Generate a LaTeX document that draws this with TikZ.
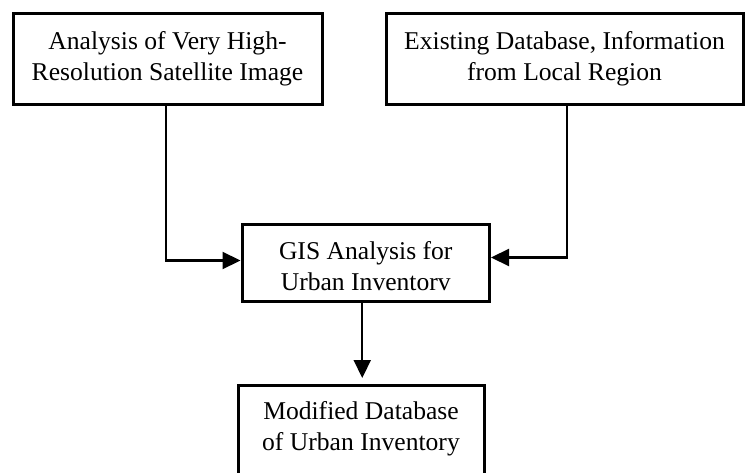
\documentclass[tikz,border=0pt]{standalone}
\usepackage{fontspec}
\setmainfont{Liberation Serif}
\usetikzlibrary{arrows.meta}
\begin{document}
\begin{tikzpicture}[x=1pt,y=-1pt]
\tikzstyle{every node}+=[inner sep=5pt, font=\fontsize{25.6}{31}\selectfont, align=center]
\tikzstyle{box}=[draw, black, line width=3pt]
\tikzstyle{link}=[black, line width=2.2pt, -{Triangle[length=18pt,width=17pt]}]
\useasboundingbox (0,0) rectangle (746,473);
\node [box, minimum width=309pt, minimum height=91pt] (A) at (167.5,59) {Analysis of Very High-\\Resolution Satellite Image};
\node [box, minimum width=357pt, minimum height=91pt] (B) at (564.5,59) {Existing Database, Information\\from Local Region};
\node [box, minimum width=247.5pt, anchor=north] (C) at (365.75,223) {\rule{0pt}{30pt}GIS Analysis for\\Urban Inventorv\rule[-6pt]{0pt}{6pt}};
\node [box, minimum width=246pt, anchor=north] (D) at (361,384) {\rule{0pt}{29pt}Modified Database\\of Urban Inventory\rule[-60pt]{0pt}{60pt}};
\draw [link] ([xshift=-1.5pt]A.south) |- ([yshift=2.5pt]C.west);
\draw [link] ([xshift=2.5pt]B.south) |- ([yshift=5.5pt]C.east);
\draw [link, shorten >=6pt] ([xshift=-3.5pt]C.south) -- ([xshift=-3.5pt]C.south |- D.north);
\end{tikzpicture}
\end{document}
